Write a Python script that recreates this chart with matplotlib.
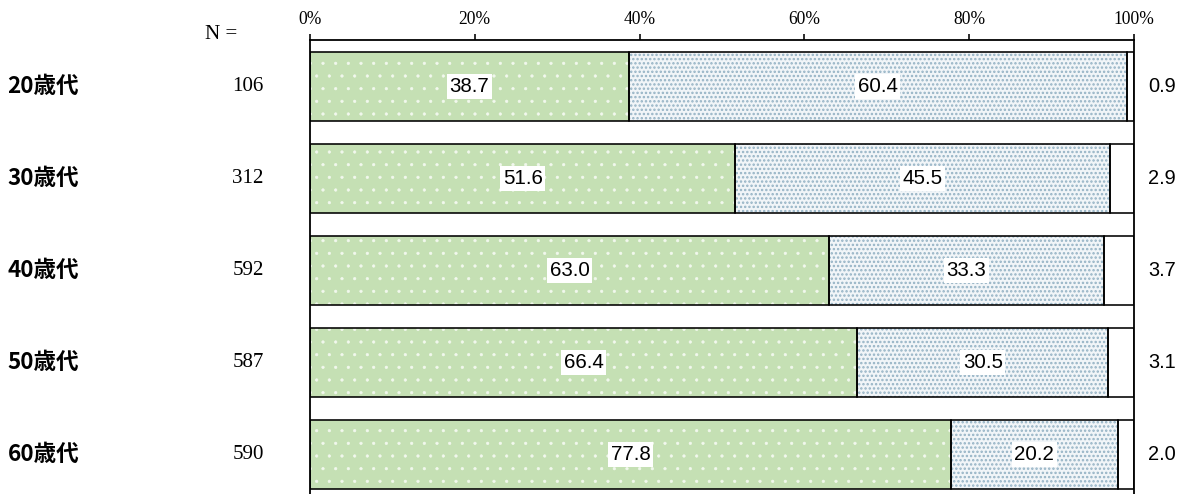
import numpy as np
import matplotlib
matplotlib.use('Agg')
from matplotlib import pyplot as plt

ages = ['20歳代', '30歳代', '40歳代', '50歳代', '60歳代']
n_vals = ['106', '312', '592', '587', '590']
yes_vals = [38.7, 51.6, 63.0, 66.4, 77.8]
no_vals = [60.4, 45.5, 33.3, 30.5, 20.2]
na_vals = [0.9, 2.9, 3.7, 3.1, 2.0]
tick_labels = ['0%', '20%', '40%', '60%', '80%', '100%']

# hatch cell = 1 inch, so the dpi sets the dot spacing
DPI = 76
S = 72 / DPI   # px -> pt

fig = plt.figure(figsize=(1187/DPI, 494/DPI), dpi=DPI)
ax = fig.add_axes([310/1187, 0, (1134-310)/1187, 1-40/494])

y = np.arange(len(ages))
h = 0.75
yes = np.array(yes_vals)
no = np.array(no_vals)
na = np.array(na_vals)

# fills with hatch (edgecolor = hatch colour), then outlines on top
with plt.rc_context({'hatch.linewidth': 0.6*S}):
    ax.barh(y, yes, height=h, color='#c5e0b4', edgecolor='#f2f8ee', hatch='.', lw=0)
with plt.rc_context({'hatch.linewidth': 1.6*S}):
    ax.barh(y, no, left=yes, height=h, color='#f1f5f8', edgecolor='#94b2c4', hatch='...', lw=0)
ax.barh(y, na, left=yes+no, height=h, color='white', lw=0)
for left, w in [(0*yes, yes), (yes, no), (yes+no, na)]:
    ax.barh(y, w, left=left, height=h, fill=False, edgecolor='black', lw=1.6*S)

box = dict(facecolor='white', edgecolor='none', pad=2.5)
for i in range(len(ages)):
    ax.text(yes[i]/2, i, f'{yes[i]:.1f}', ha='center', va='center', fontsize=20.5*S,
            family='Liberation Sans', bbox=box)
    ax.text(yes[i] + no[i]/2, i, f'{no[i]:.1f}', ha='center', va='center', fontsize=20.5*S,
            family='Liberation Sans', bbox=box)
    ax.text(101.7, i, f'{na[i]:.1f}', ha='left', va='center', fontsize=20*S,
            family='Liberation Sans', clip_on=False)
    ax.text(-36.7, i, ages[i], ha='left', va='center', fontsize=22.5*S, fontweight='bold',
            family=['Noto Sans CJK JP', 'DejaVu Sans'], clip_on=False)
    ax.text(-5.6, i, n_vals[i], ha='right', va='center', fontsize=21*S,
            family='Liberation Serif', clip_on=False)

ax.text(-10.8, -0.57, 'N =', ha='center', va='center', fontsize=21*S,
        family='Liberation Serif', clip_on=False)

ax.set_xlim(0, 100)
ax.set_ylim(4.43, -0.505)
ax.xaxis.tick_top()
ax.set_xticks(np.arange(0, 101, 20))
ax.set_xticklabels(tick_labels, family='Liberation Serif', fontsize=17.5*S)
ax.tick_params(axis='x', direction='out', length=6*S, width=1.6*S, pad=6*S)
ax.set_yticks([])
ax.spines['bottom'].set_visible(False)
for s in ['left', 'right', 'top']:
    ax.spines[s].set_linewidth(1.8*S)

fig.savefig('out.png', dpi=DPI)
